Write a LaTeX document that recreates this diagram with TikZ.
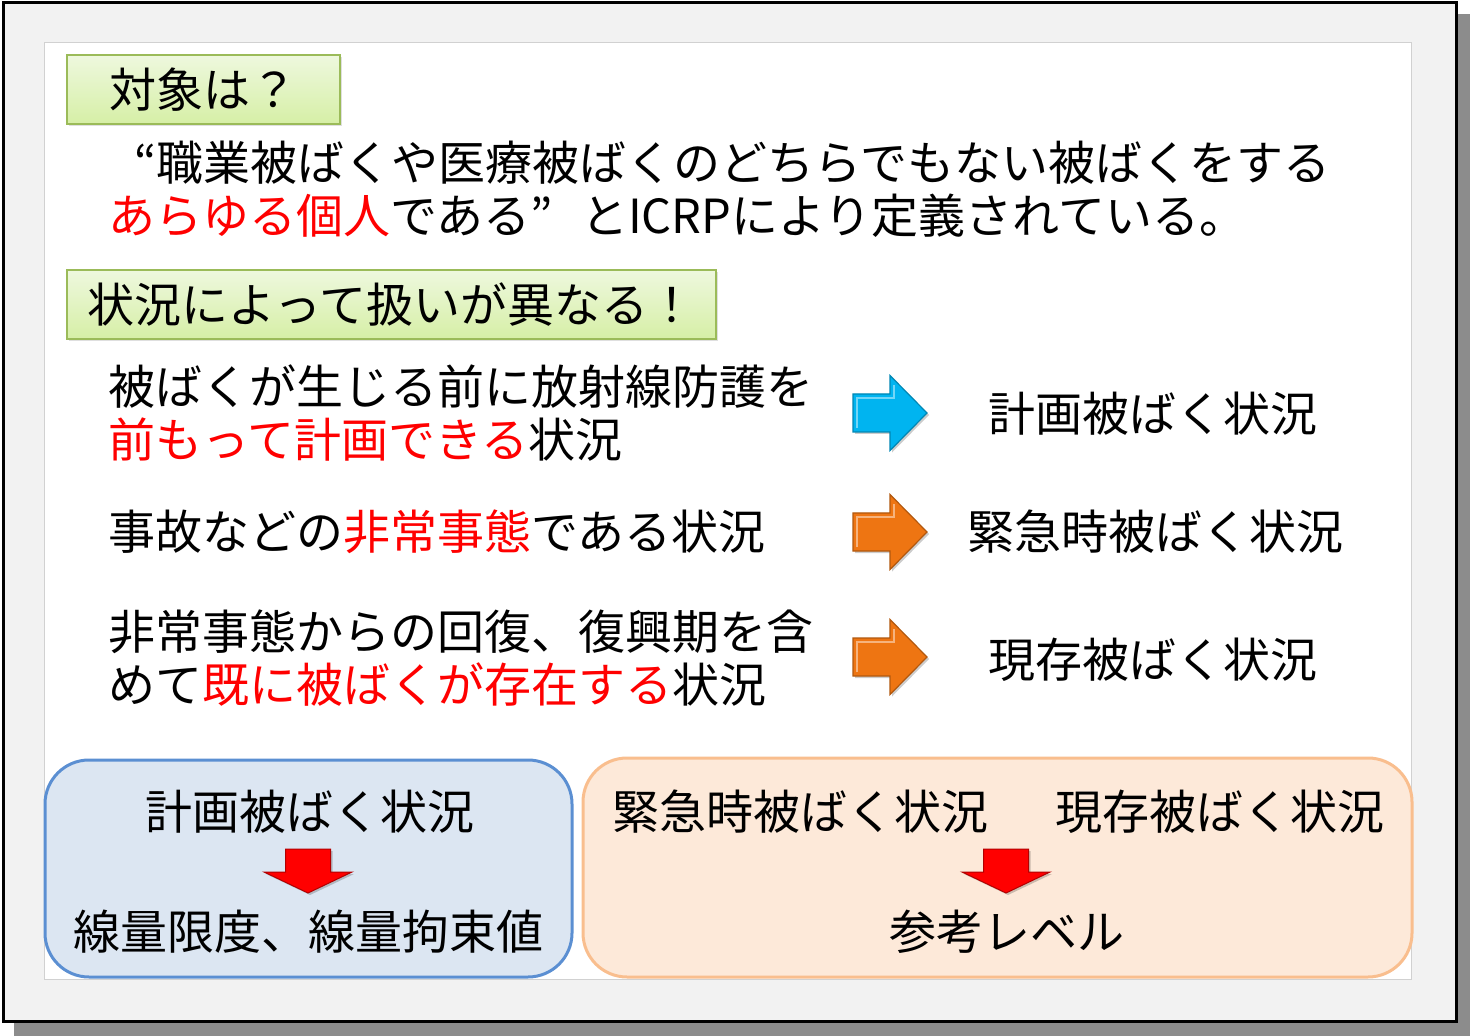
\documentclass[tikz,border=0pt]{standalone}
\usepackage{fontspec}
\setmainfont{Noto Sans CJK JP}
\usepackage{tikz}
\usetikzlibrary{positioning}
\usetikzlibrary{shadows}
\definecolor{grnline}{HTML}{9BBB59}
\definecolor{grntop}{HTML}{EEF8DE}
\definecolor{grnbot}{HTML}{D6EFA6}
\definecolor{alert}{HTML}{FF0000}
\definecolor{skyarrow}{HTML}{00B4F0}
\definecolor{orgarrow}{HTML}{EE7512}
\definecolor{planfill}{HTML}{DCE6F2}
\definecolor{planline}{HTML}{5B8FD2}
\definecolor{reffill}{HTML}{FDE9D9}
\definecolor{refline}{HTML}{F9BE8E}
\tikzset{>=latex}

\begin{document}
\begin{tikzpicture}[x=0.5pt,y=-0.5pt,
  font=\fontsize{23.5}{26.5}\selectfont,
  titlebox/.style={draw=grnline, line width=0.8pt, top color=grntop, bottom color=grnbot,
    inner sep=0pt, minimum height=34.5pt,
    drop shadow={shadow xshift=0.8pt, shadow yshift=-0.8pt, opacity=0.25}},
  bodytext/.style={anchor=west, inner sep=0pt, align=left},
  labeltext/.style={inner sep=0pt}]

\useasboundingbox (0,0) rectangle (1470,1036);

% ---------------- Frame ----------------
\fill[black!45] (14,14) rectangle (1470,1036);
\draw[line width=1.5pt, fill=black!5] (3,3) rectangle (1456,1021);
\draw[black!18, line width=0.5pt, fill=white] (44,43) rectangle (1411,979);

% ---------------- Headings ----------------
\node[titlebox, minimum width=136.5pt] (target) at (203.5,89.5) {対象は？};
\node[titlebox, minimum width=324.5pt] (depend) at (391.5,304.5) {状況によって扱いが異なる！};

% ---------------- Definition ----------------
\node[bodytext] (defA) at (134,163) {“職業被ばくや医療被ばくのどちらでもない被ばくをする};
\node[bodytext] (defB) at (108,216) {\textcolor{alert}{あらゆる個人}である”\hspace{14pt}とICRPにより定義されている。};

% ---------------- Situations ----------------
\node[bodytext] (planA) at (108,413.5) {被ばくが生じる前に放射線防護を\\\textcolor{alert}{前もって計画できる}状況};
\node[bodytext] (emerA) at (108,532) {事故などの\textcolor{alert}{非常事態}である状況};
\node[bodytext] (existA) at (108,658) {非常事態からの回復、復興期を含\\めて\textcolor{alert}{既に被ばくが存在する}状況};

% ---------- Right arrow ----------
% centre y, colour
\def\rarrow#1#2{
  \fill[black, opacity=0.2, shift={(2,2)}]
    (853,#1-19) -- (890,#1-19) -- (890,#1-37.5) -- (927,#1)
    -- (890,#1+37.5) -- (890,#1+19) -- (853,#1+19) -- cycle;
  \draw[fill=#2, draw=#2!75!black, line width=0.6pt]
    (853,#1-19) -- (890,#1-19) -- (890,#1-37.5) -- (927,#1)
    -- (890,#1+37.5) -- (890,#1+19) -- (853,#1+19) -- cycle;
  \draw[#2!55!white, line width=1pt]
    (857,#1+15) -- (857,#1-15) -- (894,#1-15) -- (894,#1-28);
}

\rarrow{413}{skyarrow}
\rarrow{532}{orgarrow}
\rarrow{657}{orgarrow}

\node[labeltext] (planB) at (1153,414) {計画被ばく状況};
\node[labeltext] (emerB) at (1155,532) {緊急時被ばく状況};
\node[labeltext] (existB) at (1153,660) {現存被ばく状況};

% ---------------- Summary boxes ----------------
\draw[planline, line width=1.5pt, fill=planfill, rounded corners=22pt] (45,760) rectangle (572,977);
\draw[refline, line width=1.5pt, fill=reffill, rounded corners=22pt] (583,758) rectangle (1412,977);

% ---------- Down arrow ----------
% tip x
\def\darrow#1{
  \fill[black, opacity=0.2, shift={(2,2)}]
    (#1-22.5,849) -- (#1+22.5,849) -- (#1+22.5,872) -- (#1+44,872)
    -- (#1,893) -- (#1-44,872) -- (#1-22.5,872) -- cycle;
  \draw[fill=alert, draw=alert!70!black, line width=0.5pt]
    (#1-22.5,849) -- (#1+22.5,849) -- (#1+22.5,872) -- (#1+44,872)
    -- (#1,893) -- (#1-44,872) -- (#1-22.5,872) -- cycle;
}

\node[labeltext] (planC) at (310,812) {計画被ばく状況};
\darrow{308}
\node[labeltext] (planD) at (308,932) {線量限度、線量拘束値};

\node[labeltext] (emerC) at (800,812) {緊急時被ばく状況};
\node[labeltext] (existC) at (1220,812) {現存被ばく状況};
\darrow{1006}
\node[labeltext] (refD) at (1007,932) {参考レベル};

\end{tikzpicture}
\end{document}
